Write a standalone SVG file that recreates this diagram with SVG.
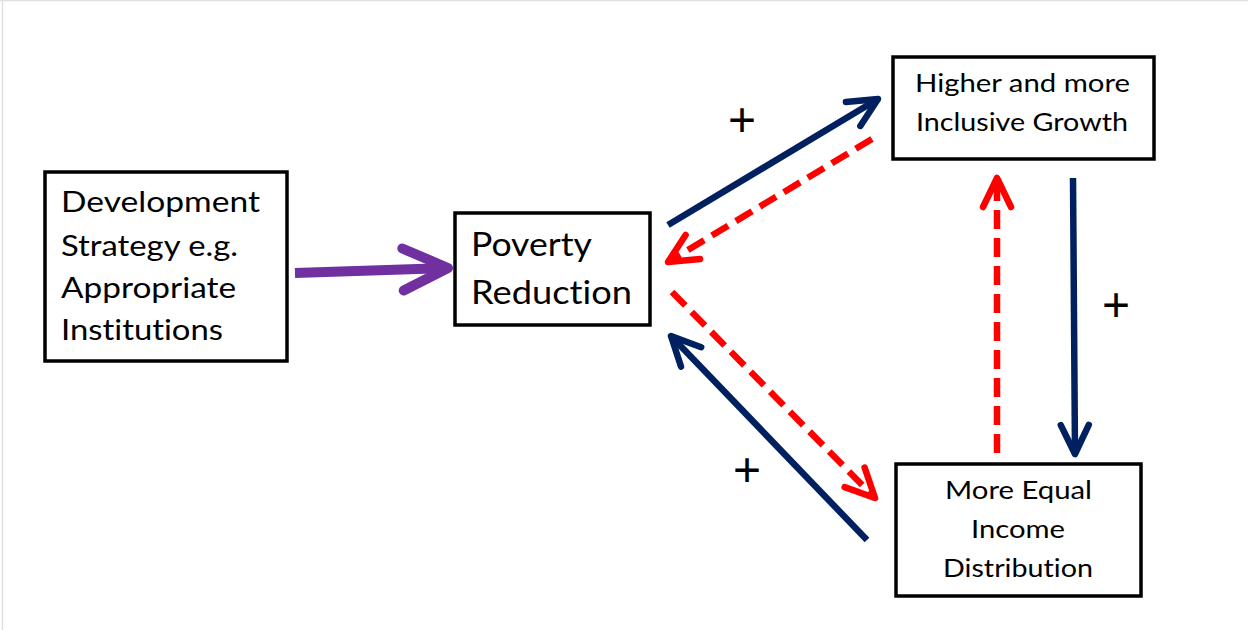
<svg xmlns="http://www.w3.org/2000/svg" width="1248" height="630" viewBox="0 0 1248 630">
  <style>
    .box { fill: #ffffff; stroke: #000000; stroke-width: 3.5; }
    .lbl { font-family: Lato, "Liberation Sans", sans-serif; fill: #000000; font-variant-ligatures: none; font-feature-settings: "liga" 0; }
    .plus { font-family: "Liberation Sans", Arial, sans-serif; font-size: 48px; fill: #000000; text-anchor: middle; }
    .navy { fill: none; stroke: #002060; stroke-width: 6.5; }
    .red { fill: none; stroke: #FF0000; stroke-width: 6.5; stroke-dasharray: 19 9; }
    .purple { fill: none; stroke: #7030A0; stroke-width: 10; }
  </style>
  <defs>
    <marker id="mNavy" markerUnits="userSpaceOnUse" viewBox="-40 -25 50 50" refX="0" refY="0" markerWidth="50" markerHeight="50" orient="auto" overflow="visible">
      <path d="M-29,-14 L0,0 L-29,14" fill="none" stroke="#002060" stroke-width="6.5" stroke-linecap="round" stroke-linejoin="round"/>
    </marker>
    <marker id="mRed" markerUnits="userSpaceOnUse" viewBox="-40 -25 50 50" refX="0" refY="0" markerWidth="50" markerHeight="50" orient="auto" overflow="visible">
      <path d="M-29,-14 L0,0 L-29,14" fill="none" stroke="#FF0000" stroke-width="6.5" stroke-linecap="round" stroke-linejoin="round"/>
    </marker>
    <marker id="mPurple" markerUnits="userSpaceOnUse" viewBox="-60 -35 70 70" refX="0" refY="0" markerWidth="70" markerHeight="70" orient="auto" overflow="visible">
      <path d="M-45,-21 L0,0 L-45,21" fill="none" stroke="#7030A0" stroke-width="10" stroke-linecap="round" stroke-linejoin="round"/>
    </marker>
  </defs>

  <rect x="0" y="0" width="1248" height="630" fill="#ffffff"/>
  <line x1="0" y1="0.5" x2="1248" y2="0.5" stroke="#e0e0e0" stroke-width="1.5"/>
  <line x1="2.5" y1="0" x2="2.5" y2="630" stroke="#e0e0e0" stroke-width="1.5"/>

  <g id="connectors">
    <path class="purple" d="M295,273 L448,268" marker-end="url(#mPurple)"/>
    <path class="navy" d="M668,225 L878,99" marker-end="url(#mNavy)"/>
    <path class="red" d="M872,139 L668,262" marker-end="url(#mRed)"/>
    <path class="red" d="M672,292 L875,498" marker-end="url(#mRed)"/>
    <path class="navy" d="M867,540 L671,336" marker-end="url(#mNavy)"/>
    <path class="navy" d="M1073,178 L1075,454" marker-end="url(#mNavy)"/>
    <path class="red" d="M997,453 L997,178" marker-end="url(#mRed)"/>
  </g>

  <g id="node-development">
    <rect class="box" x="45" y="172" width="242" height="189"/>
    <text class="lbl" font-size="28">
      <tspan x="61" y="212" textLength="199" lengthAdjust="spacingAndGlyphs">Development</tspan>
      <tspan x="61" y="256" textLength="177" lengthAdjust="spacingAndGlyphs">Strategy e.g.</tspan>
      <tspan x="61" y="298" textLength="175" lengthAdjust="spacingAndGlyphs">Appropriate</tspan>
      <tspan x="61" y="340" textLength="162" lengthAdjust="spacingAndGlyphs">Institutions</tspan>
    </text>
  </g>

  <g id="node-poverty">
    <rect class="box" x="455" y="213" width="195" height="112"/>
    <text class="lbl" font-size="32">
      <tspan x="471" y="256" textLength="120" lengthAdjust="spacingAndGlyphs">Poverty</tspan>
      <tspan x="471" y="304" textLength="161" lengthAdjust="spacingAndGlyphs">Reduction</tspan>
    </text>
  </g>

  <g id="node-growth">
    <rect class="box" x="893" y="57" width="261" height="102"/>
    <text class="lbl" font-size="25">
      <tspan x="915" y="92" textLength="215" lengthAdjust="spacingAndGlyphs">Higher and more</tspan>
      <tspan x="916" y="131" textLength="212" lengthAdjust="spacingAndGlyphs">Inclusive Growth</tspan>
    </text>
  </g>

  <g id="node-income">
    <rect class="box" x="896" y="464" width="245" height="132"/>
    <text class="lbl" font-size="24.5">
      <tspan x="945" y="499" textLength="147" lengthAdjust="spacingAndGlyphs">More Equal</tspan>
      <tspan x="971" y="538" textLength="94" lengthAdjust="spacingAndGlyphs">Income</tspan>
      <tspan x="943" y="577" textLength="150" lengthAdjust="spacingAndGlyphs">Distribution</tspan>
    </text>
  </g>

  <g id="labels">
    <text class="plus" x="742" y="136">+</text>
    <text class="plus" x="1116" y="321">+</text>
    <text class="plus" x="747" y="486">+</text>
  </g>
</svg>
